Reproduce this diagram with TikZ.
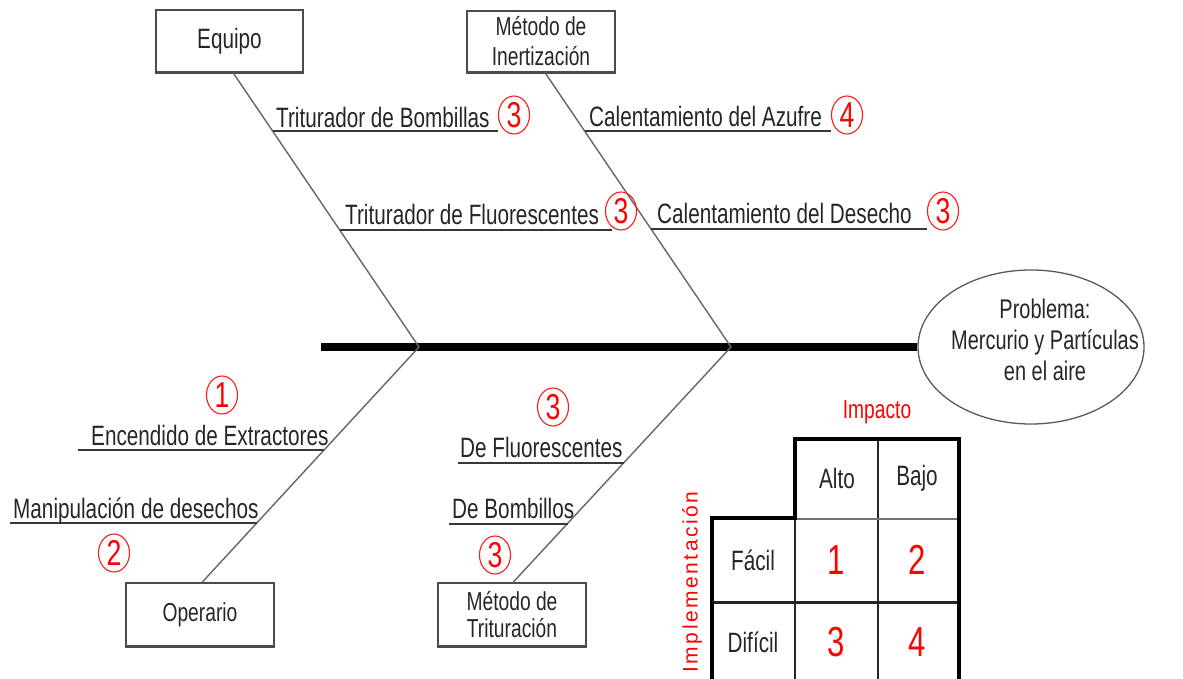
\documentclass[tikz,border=0pt]{standalone}
\usepackage{fontspec}
\setmainfont[FakeStretch=0.74]{Liberation Sans}
\newfontfamily\widefont[LetterSpace=12]{Liberation Sans}
\usetikzlibrary{shapes.geometric,calc}
\newcommand{\myfs}[1]{\fontsize{#1}{#1}\selectfont}
\begin{document}
\begin{tikzpicture}[x=1pt,y=-1pt,
  txt/.style={font=\myfs{28}, text=black!85, inner sep=0, anchor=base west},
  num/.style={ellipse, draw=red!90, line width=1.1, text=red, minimum width=31, minimum height=38, inner sep=0, font=\myfs{36}},
  boxnode/.style={draw=black!70, line width=1.2, rectangle, inner sep=0, align=center, text=black!85},
  bone/.style={draw=black!60, line width=1.4},
  sub/.style={draw=black!78, line width=2},
  shadowline/.style={draw=black!70, line width=3},
  cell/.style={font=\myfs{28}, text=black!85, inner sep=0},
  rnum/.style={font=\myfs{42}, text=red, inner sep=0},
]
\useasboundingbox (0,0) rectangle (1183,679);

% ---- boxes ----
\node[boxnode, minimum width=147, minimum height=62, font=\myfs{28}] (equipo) at (229.5,41) {Equipo};
\node[boxnode, minimum width=148, minimum height=61, font=\fontsize{26}{30}\selectfont] (inert) at (541,41.5) {Método de\\Inertización};
\node[boxnode, minimum width=148, minimum height=63, font=\myfs{26}] (operario) at (200,614.5) {Operario};
\node[boxnode, minimum width=148, minimum height=63, font=\fontsize{26}{27}\selectfont] (tritur) at (512,614.5) {Método de\\Trituración};
\foreach \b in {equipo,inert,operario,tritur}{
  \draw[shadowline] (\b.south west) -- (\b.south east);
}

% ---- problem ellipse ----
\node[ellipse, draw=black!65, line width=1.3, minimum width=226, minimum height=154, inner sep=0] (prob) at (1031,347) {};
\node[font=\fontsize{27}{31}\selectfont, align=center, text=black!85, inner sep=0] (probtxt) at (1045,340) {Problema:\\Mercurio y Partículas\\en el aire};

% ---- spine ----
\coordinate (tail) at (321,347);
\coordinate (j1) at (419,347);
\coordinate (j2) at (731,347);
\draw[line width=8.5] (tail) -- (prob.west);

% ---- bones ----
\draw[bone] ([xshift=3.5]equipo.south) -- (j1);
\draw[bone] ([xshift=4]inert.south) -- (j2);
\draw[bone] ([xshift=2]operario.north) -- (j1);
\draw[bone] ([xshift=1]tritur.north) -- (j2);

% ---- sub-bones ----
\coordinate (u1a) at (272.9,131); \coordinate (u1b) at (498,131);
\coordinate (u2a) at (339.9,230); \coordinate (u2b) at (612,230);
\coordinate (u3a) at (584.9,131); \coordinate (u3b) at (831,131);
\coordinate (u4a) at (651.2,229); \coordinate (u4b) at (927,229);
\coordinate (u5a) at (78,450);    \coordinate (u5b) at (324.3,450);
\coordinate (u6a) at (10,523);    \coordinate (u6b) at (257.2,523);
\coordinate (u7a) at (458,463);   \coordinate (u7b) at (623.8,463);
\coordinate (u8a) at (449,524);   \coordinate (u8b) at (567.5,524);
\foreach \u in {1,...,8}{ \draw[sub] (u\u a) -- (u\u b); }

% ---- labels ----
\node[txt] (l1) at (276,128) {Triturador de Bombillas};
\node[txt] (l2) at (345,225) {Triturador de Fluorescentes};
\node[txt] (l3) at (589,127) {Calentamiento del Azufre};
\node[txt] (l4) at (657,223) {Calentamiento del Desecho};
\node[txt] (l5) at (91,445) {Encendido de Extractores};
\node[txt] (l6) at (13,518) {Manipulación de desechos};
\node[txt] (l7) at (460,457) {De Fluorescentes};
\node[txt] (l8) at (452,518) {De Bombillos};

% ---- circled numbers ----
\node[num] (c1) at (514,115) {3};
\node[num] (c2) at (621,211) {3};
\node[num] (c3) at (847,115) {4};
\node[num] (c4) at (943,211) {3};
\node[num] (c5) at (222,395) {1};
\node[num] (c6) at (114,553) {2};
\node[num] (c7) at (553,407) {3};
\node[num] (c8) at (495,555) {3};

% ---- priority table ----
\draw[line width=1.5, black!85] (795,518) -- (795,682);
\draw[line width=1.5, black!85] (878,439) -- (878,682);
\draw[line width=2.5, black!55] (795,519) -- (959,519);
\draw[line width=3, black!85] (712,602) -- (959,602);
\draw[line width=4, line join=miter] (712,682) -- (712,518) -- (795,518) -- (795,439) -- (959,439) -- (959,682);

\node[font=\myfs{26}, text=red, inner sep=0] (impacto) at (877,412) {Impacto};
\node[font=\widefont\myfs{21}, text=red, inner sep=0, rotate=90] (implem) at (692,582) {Implementación};
\node[cell] (alto) at (837,478) {Alto};
\node[cell] (bajo) at (917,478) {Bajo};
\node[cell] (facil) at (753,560) {Fácil};
\node[cell] (dificil) at (753,642) {Difícil};
\node[rnum] (n1) at (836,560) {1};
\node[rnum] (n2) at (917,560) {2};
\node[rnum] (n3) at (836,642) {3};
\node[rnum] (n4) at (917,642) {4};
\end{tikzpicture}
\end{document}
